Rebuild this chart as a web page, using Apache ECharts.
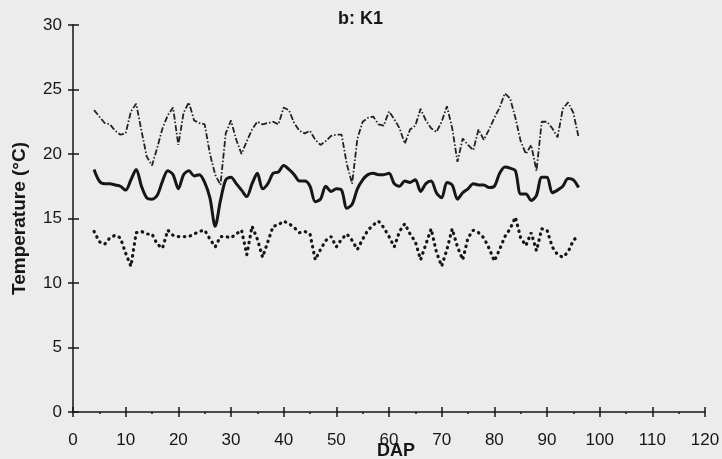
<!DOCTYPE html>
<html>
<head>
<meta charset="utf-8">
<script src="https://cdn.jsdelivr.net/npm/echarts@6/dist/echarts.min.js"></script>
<style>
html,body{margin:0;padding:0;background:#ececec;}
#chart{width:722px;height:459px;}
</style>
</head>
<body>
<div id="chart"></div>
<script>
// Days after planting (DAP)
var days = [];
for (var d = 4; d <= 96; d++) days.push(d);

// Maximum temperature (dash-dot line)
var tMax = [23.4,22.9,22.4,22.3,21.8,21.5,21.6,23.3,23.9,21.8,19.8,19.1,20.5,22.0,23.0,23.6,20.7,23.2,24.0,22.6,
  22.4,22.3,20.0,18.4,17.6,21.6,22.6,21.1,20.0,21.0,21.9,22.5,22.3,22.4,22.5,22.3,23.6,23.4,22.4,21.8,
  21.6,21.8,21.1,20.7,21.0,21.4,21.5,21.5,19.2,17.7,21.2,22.5,22.8,22.9,22.3,22.2,23.3,22.7,22.0,20.8,
  21.9,22.2,23.5,22.6,22.0,21.7,22.5,23.7,22.0,19.4,21.2,20.7,20.3,21.9,21.1,21.9,22.8,23.6,24.7,24.3,
  22.8,21.0,20.0,20.7,18.7,22.5,22.5,22.0,21.3,23.5,24.0,23.2,21.3];

// Mean temperature (solid line)
var tMean = [18.8,17.9,17.7,17.7,17.6,17.5,17.2,18.0,18.8,17.5,16.6,16.5,16.8,17.9,18.7,18.4,17.3,18.4,18.7,18.3,
  18.4,17.8,16.6,14.4,16.4,18.0,18.2,17.7,17.2,16.7,17.7,18.5,17.3,17.7,18.5,18.6,19.1,18.8,18.4,17.9,
  17.9,17.5,16.3,16.5,17.5,17.1,17.3,17.2,15.8,16.1,17.3,18.0,18.4,18.5,18.4,18.4,18.5,17.7,17.5,17.9,
  17.8,18.0,17.1,17.7,17.9,17.0,16.6,17.8,17.6,16.5,17.0,17.3,17.7,17.6,17.6,17.4,17.5,18.5,19.0,18.9,
  18.7,16.9,16.9,16.4,16.8,18.2,18.2,17.0,17.2,17.5,18.1,18.0,17.4];

// Minimum temperature (dotted line)
var tMin = [14.0,13.2,13.0,13.5,13.7,13.5,12.3,11.3,13.9,14.0,13.8,13.8,13.0,12.7,14.1,13.7,13.6,13.6,13.6,13.8,
  14.0,14.1,13.4,12.8,13.6,13.6,13.5,13.8,14.1,12.2,14.4,13.4,12.0,13.2,14.4,14.5,14.8,14.6,14.3,13.9,
  14.0,13.8,11.8,12.6,13.3,13.6,12.8,13.4,13.8,13.3,12.6,13.4,14.1,14.5,14.8,14.3,13.6,12.8,14.0,14.6,
  13.8,13.2,11.8,13.0,14.2,12.4,11.3,12.6,14.2,12.8,11.8,13.5,14.1,13.9,13.5,12.7,11.7,12.6,13.6,14.2,
  15.1,13.5,12.9,13.9,12.5,14.2,14.1,12.8,12.2,12.0,12.4,13.3,13.7];

var xTicks = [0,10,20,30,40,50,60,70,80,90,100,110,120];
var yTicks = [0,5,10,15,20,25,30];

function pairs(vals){ return days.map(function(d,i){ return [d, vals[i]]; }); }

var ink = '#161616';
var font = 'Liberation Sans, Arial, sans-serif';

var chart = echarts.init(document.getElementById('chart'), null, {renderer:'canvas'});
chart.setOption({
  backgroundColor: '#ececec',
  animation: false,
  title: {
    text: 'b: K1', left: 333, top: 5,
    textStyle: {fontFamily: font, fontSize: 18, fontWeight: 'bold', color: ink}
  },
  grid: {left: 73, right: 17, top: 25, bottom: 47, outerBoundsMode: 'none', containLabel: false},
  xAxis: [{
    type: 'value', min: xTicks[0], max: xTicks[xTicks.length-1], interval: 10,
    name: 'DAP', nameLocation: 'middle', nameGap: 30, nameMoveOverlap: false,
    nameTextStyle: {fontFamily: font, fontSize: 18, fontWeight: 'bold', color: ink, padding: [0,0,0,14]},
    axisLine: {show: true, lineStyle: {color: ink, width: 1.5}},
    axisTick: {show: true, length: 5, lineStyle: {color: ink, width: 1.5}},
    minorTick: {show: true, splitNumber: 2, length: 2, lineStyle: {color: ink, width: 1.5}},
    axisLabel: {fontFamily: font, fontSize: 17, color: ink, margin: 20},
    splitLine: {show: false}
  }, {
    type: 'value', min: 0, max: 120, interval: 10, position: 'bottom',
    axisLine: {show: false},
    axisTick: {show: true, inside: true, length: 5, lineStyle: {color: ink, width: 1.5}},
    axisLabel: {show: false}, splitLine: {show: false}
  }],
  yAxis: [{
    type: 'value', min: yTicks[0], max: yTicks[yTicks.length-1], interval: 5,
    name: 'Temperature (°C)', nameLocation: 'middle', nameGap: 44, nameMoveOverlap: false,
    nameTextStyle: {fontFamily: font, fontSize: 19, fontWeight: 'bold', color: ink},
    axisLine: {show: true, lineStyle: {color: ink, width: 1.5}},
    axisTick: {show: true, length: 5, lineStyle: {color: ink, width: 1.5}},
    axisLabel: {fontFamily: font, fontSize: 17, color: ink, margin: 11},
    splitLine: {show: false}
  }, {
    type: 'value', min: 0, max: 30, interval: 5, position: 'left',
    axisLine: {show: false},
    axisTick: {show: true, inside: true, length: 6, lineStyle: {color: ink, width: 1.5}},
    axisLabel: {show: false}, splitLine: {show: false}
  }],
  series: [{
    name: 'Max', type: 'line', data: pairs(tMax), showSymbol: false, symbol: 'none',
    lineStyle: {color: '#222', width: 1.8, type: [6,2,1.5,2]}
  }, {
    name: 'Mean', type: 'line', data: pairs(tMean), showSymbol: false, symbol: 'none', smooth: 0.3,
    lineStyle: {color: ink, width: 3}
  }, {
    name: 'Min', type: 'line', data: pairs(tMin), showSymbol: false, symbol: 'none',
    lineStyle: {color: ink, width: 3.2, type: [0.5,5.5], cap: 'round'}
  }]
});
</script>
</body>
</html>
